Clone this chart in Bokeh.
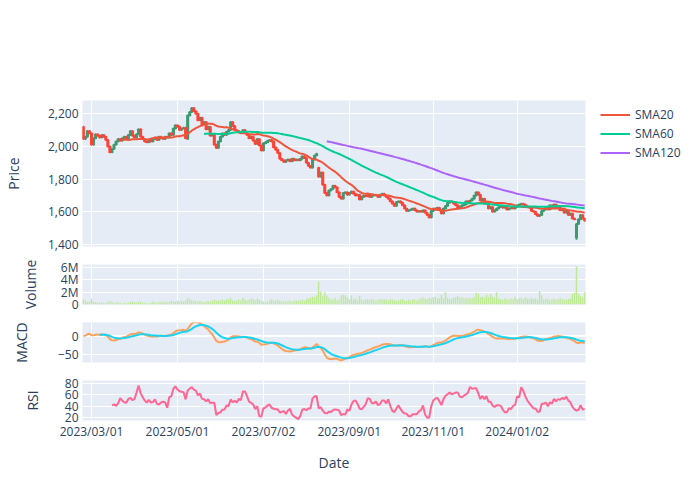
import numpy as np
import pandas as pd
from bokeh.plotting import figure
from bokeh.layouts import column
from bokeh.models import (Range1d, FixedTicker, NumeralTickFormatter, Legend,
                          LegendItem, Span)
from bokeh.embed import file_html
from bokeh.resources import INLINE

FONT = "Open Sans"
TXT = "#2a3f5f"
BG = "#E5ECF6"
INC = "#3D9970"
DEC = "#FF4136"

# ---------------- data ----------------
start_date = "2023-02-22"
end_date = "2024-02-22"
market_holidays = ["2023-02-23", "2023-03-21", "2023-05-03", "2023-05-04",
                   "2023-05-05", "2023-07-17", "2023-08-11", "2023-09-18",
                   "2023-10-09", "2023-11-03", "2023-11-23", "2024-01-01",
                   "2024-01-02", "2024-01-03", "2024-01-08", "2024-02-12"]

close = [
    2045, 2060, 2095, 2080, 2010, 2050, 2075, 2065, 2055, 2070,
    2060, 2040, 2000, 1965, 1985, 2010, 2030, 2045, 2035, 2050,
    2060, 2045, 2070, 2095, 2065, 2055, 2075, 2105, 2060, 2045,
    2030, 2025, 2040, 2030, 2045, 2055, 2040, 2060, 2050, 2045,
    2060, 2055, 2080, 2070, 2110, 2130, 2120, 2100, 2110, 2115,
    2050, 2190, 2210, 2235, 2215, 2200, 2160, 2175, 2135, 2150,
    2105, 2120, 2065, 2075, 2010, 1990, 2030, 2060, 2080, 2070,
    2090, 2100, 2150, 2125, 2100, 2095, 2085, 2080, 2100, 2080,
    2070, 2050, 2060, 2035, 2015, 2045, 2005, 1975, 2020, 2025,
    2035, 2040, 2030, 1995, 1980, 1960, 1925, 1915, 1905, 1915,
    1920, 1910, 1925, 1915, 1920, 1915, 1925, 1940, 1930, 1900,
    1880, 1870, 1920, 1945, 1955, 1815, 1840, 1765, 1715, 1700,
    1730, 1740, 1760, 1750, 1720, 1690, 1680, 1715, 1720, 1705,
    1715, 1725, 1710, 1700, 1705, 1675, 1690, 1700, 1695, 1705,
    1690, 1700, 1705, 1700, 1690, 1705, 1710, 1700, 1690, 1680,
    1665, 1650, 1635, 1660, 1665, 1655, 1640, 1620, 1605, 1610,
    1615, 1620, 1610, 1600, 1605, 1600, 1610, 1595, 1580, 1565,
    1605, 1620, 1615, 1625, 1610, 1590, 1620, 1635, 1655, 1665,
    1660, 1650, 1640, 1625, 1630, 1640, 1645, 1665, 1660, 1670,
    1680, 1700, 1720, 1705, 1670, 1680, 1650, 1655, 1620, 1630,
    1600, 1610, 1620, 1630, 1635, 1625, 1630, 1615, 1620, 1625,
    1620, 1630, 1640, 1645, 1650, 1645, 1635, 1630, 1625, 1605,
    1600, 1585, 1575, 1580, 1605, 1615, 1630, 1615, 1640, 1625,
    1645, 1625, 1635, 1610, 1620, 1595, 1605, 1580, 1590, 1560,
    1555, 1525, 1555, 1580, 1560, 1545,
]
# opens differ from the previous close only on these gap days
open_gaps = {0: 2120, 51: 2045, 115: 1870, 241: 1445}
low_wicks = {241: 1430}

volume_m = [
    0.9, 0.6, 0.5, 0.5, 0.9, 0.5, 0.4, 0.4, 0.3, 0.4,
    0.3, 0.3, 0.5, 0.6, 0.4, 0.3, 0.3, 0.4, 0.3, 0.2,
    0.3, 0.2, 0.3, 0.4, 0.5, 0.4, 0.3, 0.5, 0.4, 0.3,
    0.3, 0.2, 0.2, 0.3, 0.5, 0.4, 0.3, 0.4, 0.5, 0.4,
    0.5, 0.4, 0.5, 0.6, 0.5, 0.5, 0.6, 0.5, 0.6, 0.5,
    0.7, 1.1, 0.9, 0.7, 0.6, 0.6, 0.5, 0.6, 0.5, 0.4,
    0.5, 0.6, 0.5, 0.7, 0.8, 0.6, 0.7, 0.6, 0.8, 0.7,
    0.9, 0.8, 1.1, 0.7, 0.6, 0.7, 0.8, 0.7, 1.1, 0.8,
    0.7, 0.8, 1.0, 0.9, 0.7, 1.0, 0.8, 0.6, 0.5, 0.4,
    0.5, 0.6, 0.9, 0.7, 0.6, 0.8, 0.7, 0.5, 0.6, 0.5,
    0.6, 0.7, 0.5, 0.6, 0.7, 0.6, 0.7, 0.8, 0.6, 0.9,
    1.0, 1.1, 1.3, 1.2, 1.5, 3.8, 2.1, 1.4, 2.0, 1.5,
    1.1, 0.9, 0.8, 1.1, 0.7, 0.9, 1.5, 1.6, 1.5, 1.2,
    0.9, 1.5, 0.8, 1.0, 0.7, 1.4, 0.8, 0.7, 0.9, 0.8,
    0.8, 0.9, 0.8, 0.7, 0.8, 0.9, 0.8, 0.9, 0.8, 0.7,
    0.9, 0.8, 0.7, 0.6, 0.7, 0.8, 0.9, 0.7, 0.6, 0.8,
    0.7, 0.9, 0.8, 0.7, 0.9, 1.0, 1.1, 1.0, 0.9, 1.1,
    1.0, 1.2, 1.3, 1.0, 1.1, 1.6, 1.0, 2.0, 1.1, 0.9,
    1.0, 1.1, 1.2, 1.4, 1.1, 1.2, 1.0, 1.1, 1.0, 1.1,
    1.0, 1.2, 1.9, 1.8, 1.2, 1.3, 1.1, 1.6, 1.2, 1.7,
    1.3, 1.1, 2.0, 1.0, 0.9, 0.8, 1.0, 0.9, 0.8, 1.0,
    0.9, 1.3, 0.9, 1.0, 1.1, 0.9, 1.2, 1.0, 0.9, 1.1,
    0.9, 1.0, 0.8, 2.2, 1.5, 0.8, 0.9, 1.0, 0.7, 0.9,
    1.0, 0.8, 0.9, 1.1, 0.8, 0.9, 0.8, 0.9, 1.0, 1.8,
    1.9, 6.2, 1.7, 1.4, 1.2, 2.0,
]

tick_dates = ["2023-03-01", "2023-05-01", "2023-07-02", "2023-09-01",
              "2023-11-01", "2024-01-02"]
tick_labels = ["2023/03/01", "2023/05/01", "2023/07/02", "2023/09/01",
               "2023/11/01", "2024/01/02"]

# ---------------- derived ----------------
dates = pd.bdate_range(start_date, end_date)
dates = dates[~dates.isin(pd.to_datetime(market_holidays))]
n = len(close)
idx = np.arange(n)
c = np.array(close, dtype=float)
o = np.r_[c[0], c[:-1]]
for k, v in open_gaps.items():
    o[k] = v
body_top = np.maximum(o, c)
body_bot = np.minimum(o, c)
hi = body_top.copy()
lo = body_bot.copy()
for k, v in low_wicks.items():
    lo[k] = v

s = pd.Series(c)
sma20 = s.rolling(20).mean().values
sma60 = s.rolling(60).mean().values
sma120 = s.rolling(120).mean().values
ema12 = s.ewm(span=12, adjust=False).mean()
ema26 = s.ewm(span=26, adjust=False).mean()
macd = ema12 - ema26
signal = macd.ewm(span=9, adjust=False, min_periods=9).mean()
delta = s.diff()
gain = delta.clip(lower=0).rolling(14).mean()
loss = (-delta.clip(upper=0)).rolling(14).mean()
rsi = (100 - 100 / (1 + gain / loss)).values

tick_pos = [int(np.searchsorted(dates.values, np.datetime64(d))) for d in tick_dates]

xr = Range1d(-0.4, n - 1 + 0.4)


def make_fig(frame_h, top, bottom, y0, y1, yticks, show_x=False):
    p = figure(frame_width=503, frame_height=frame_h, x_range=xr,
               y_range=Range1d(y0, y1),
               min_border_left=80, min_border_right=117,
               min_border_top=top, min_border_bottom=bottom,
               x_axis_location="below" if show_x else None,
               output_backend="svg", toolbar_location=None,
               background_fill_color=BG, border_fill_color="white",
               outline_line_color=None)
    p.xgrid.ticker = FixedTicker(ticks=tick_pos)
    p.xgrid.grid_line_color = "white"
    p.xgrid.grid_line_width = 1
    p.ygrid.grid_line_color = "white"
    p.ygrid.grid_line_width = 1
    ya = p.yaxis[0]
    ya.ticker = FixedTicker(ticks=yticks)
    p.ygrid.ticker = FixedTicker(ticks=yticks)
    for ax in p.axis:
        ax.axis_line_color = None
        ax.major_tick_line_color = None
        ax.minor_tick_line_color = None
        ax.major_tick_out = 0
        ax.major_tick_in = 0
        ax.major_label_text_font = FONT
        ax.major_label_text_font_size = "12px"
        ax.major_label_text_color = TXT
        ax.axis_label_text_font = FONT
        ax.axis_label_text_font_size = "14px"
        ax.axis_label_text_color = TXT
        ax.axis_label_text_font_style = "normal"
    ya.major_label_standoff = 4
    return p


# ---- price ----
p1 = make_fig(146, 100, 9, 1388, 2281, [1400, 1600, 1800, 2000, 2200])
p1.yaxis[0].formatter = NumeralTickFormatter(format="0,0")
p1.yaxis[0].axis_label = "Price"
p1.yaxis[0].axis_label_standoff = 22

inc = c > o
dec = ~inc
for mask, col in ((inc, INC), (dec, DEC)):
    p1.segment(x0=idx[mask], y0=hi[mask], x1=idx[mask], y1=lo[mask],
               line_color=col, line_width=2)
    p1.vbar(x=idx[mask], width=0.5, top=body_top[mask], bottom=body_bot[mask],
            fill_color=col, fill_alpha=0.5, line_color=col, line_width=2)

r20 = p1.line(idx, sma20, line_color="#EF553B", line_width=2)
r60 = p1.line(idx, sma60, line_color="#00CC96", line_width=2)
r120 = p1.line(idx, sma120, line_color="#AB63FA", line_width=2)

legend = Legend(items=[LegendItem(label="SMA20", renderers=[r20]),
                       LegendItem(label="SMA60", renderers=[r60]),
                       LegendItem(label="SMA120", renderers=[r120])],
                location=(15, 84), padding=0, margin=0, spacing=0,
                glyph_width=30, glyph_height=19, label_height=19,
                label_standoff=5, label_text_font=FONT,
                label_text_font_size="12px", label_text_color=TXT,
                border_line_color=None, background_fill_alpha=0)
p1.add_layout(legend, "right")

# ---- volume ----
p2 = make_fig(40, 9, 9, 0, 6.5, [0, 2, 4, 6])
p2.yaxis[0].major_label_overrides = {0: "0", 2: "2M", 4: "4M", 6: "6M"}
p2.yaxis[0].axis_label = "Volume"
p2.yaxis[0].axis_label_standoff = 18
p2.vbar(x=idx, top=volume_m, bottom=0, width=0.8, fill_color="#B6E880",
        line_color=BG, line_width=0.5)

# ---- MACD ----
p3 = make_fig(40, 9, 9, -72, 37, [-50, 0])
p3.yaxis[0].major_label_overrides = {-50: "\u221250", 0: "0"}
p3.yaxis[0].axis_label = "MACD"
p3.yaxis[0].axis_label_standoff = 24
p3.add_layout(Span(location=0, dimension="width", line_color="white",
                   line_width=2, level="underlay"))
p3.line(idx, macd.values, line_color="#FFA15A", line_width=2)
p3.line(idx, signal.values, line_color="#19D3F3", line_width=2)

# ---- RSI ----
p4 = make_fig(40, 9, 66, 15.5, 84.5, [20, 40, 60, 80], show_x=True)
p4.yaxis[0].axis_label = "RSI"
p4.yaxis[0].axis_label_standoff = 20
xa = p4.xaxis[0]
xa.ticker = FixedTicker(ticks=tick_pos)
xa.major_label_overrides = {tp: lab for tp, lab in zip(tick_pos, tick_labels)}
xa.major_label_standoff = 2
xa.axis_label = "Date"
xa.axis_label_standoff = 10
p4.line(idx, rsi, line_color="#FF6692", line_width=2)

layout = column(p1, p2, p3, p4, spacing=0)
open("out.html", "w").write(file_html(layout, INLINE))
